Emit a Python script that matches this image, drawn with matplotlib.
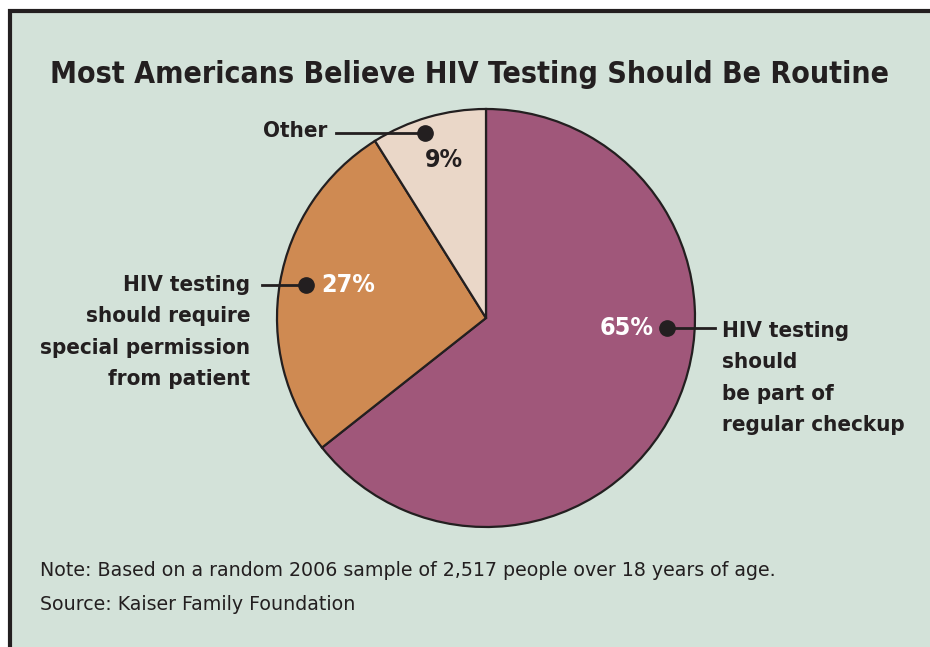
import matplotlib
matplotlib.use("Agg")
import matplotlib.pyplot as plt
from matplotlib.patches import Rectangle

# ---- data ----
categories = ["HIV testing should be part of regular checkup",
              "HIV testing should require special permission from patient",
              "Other"]
values = [65, 27, 9]
pct_labels = ["65%", "27%", "9%"]
title = "Most Americans Believe HIV Testing Should Be Routine"
note = "Note: Based on a random 2006 sample of 2,517 people over 18 years of age."
source = "Source: Kaiser Family Foundation"

# ---- style ----
W, H = 930, 647
BG = "#d3e2d9"
EDGE = "#231f20"
COLORS = ["#a0577a", "#cf8a52", "#ead7c8"]
COND = dict(family="DejaVu Sans", stretch="condensed", fontweight="bold")

fig = plt.figure(figsize=(W / 100, H / 100), dpi=100)
fig.patch.set_facecolor("white")
ax = fig.add_axes([0, 0, 1, 1])

def Y(py):
    return H - py

cx, cy, R = 486, Y(318), 209
wedges, _ = ax.pie(values, colors=COLORS, startangle=90, counterclock=False,
                   center=(cx, cy), radius=R, frame=True,
                   wedgeprops=dict(edgecolor=EDGE, linewidth=1.6))
ax.set_xlim(0, W)
ax.set_ylim(0, H)
ax.set_aspect("equal")
ax.axis("off")

# panel with border on left/top
ax.add_patch(Rectangle((10, -10), W + 20, Y(11) + 10, facecolor=BG, edgecolor=EDGE,
                       lw=3, zorder=0))

ax.text(469, Y(83), title, ha="center", va="baseline", fontsize=21.7, color=EDGE, **COND)

# annotations
lab_kw = dict(fontsize=16, color=EDGE, linespacing=1.71, **COND)
pct_kw = dict(fontsize=18, **COND)
dot_kw = dict(color=EDGE, ms=11, zorder=6)
# Other
ax.plot([336, 425], [Y(133), Y(133)], color=EDGE, lw=2, zorder=5)
ax.plot(425, Y(133), "o", **dot_kw)
ax.text(327, Y(131), "Other", ha="right", va="center", **lab_kw)
ax.text(444, Y(160), pct_labels[2], ha="center", va="center", color=EDGE, **pct_kw)
# 27%
ax.plot([262, 306], [Y(285), Y(285)], color=EDGE, lw=2, zorder=5)
ax.plot(306, Y(285), "o", **dot_kw)
ax.text(348, Y(285), pct_labels[1], ha="center", va="center", color="white", **pct_kw)
ax.text(250, Y(332), "HIV testing\nshould require\nspecial permission\nfrom patient",
        ha="right", va="center", multialignment="right", **lab_kw)
# 65%
ax.plot([667, 715], [Y(328), Y(328)], color=EDGE, lw=2, zorder=5)
ax.plot(667, Y(328), "o", **dot_kw)
ax.text(627, Y(328), pct_labels[0], ha="center", va="center", color="white", **pct_kw)
ax.text(722, Y(378), "HIV testing\nshould\nbe part of\nregular checkup",
        ha="left", va="center", multialignment="left", **lab_kw)

ax.text(40, Y(571), note, ha="left", va="center", fontsize=13.7, family="DejaVu Sans", color=EDGE)
ax.text(40, Y(604), source, ha="left", va="center", fontsize=13.7, family="DejaVu Sans", color=EDGE)

fig.savefig("out.png", dpi=100, facecolor=fig.get_facecolor())
